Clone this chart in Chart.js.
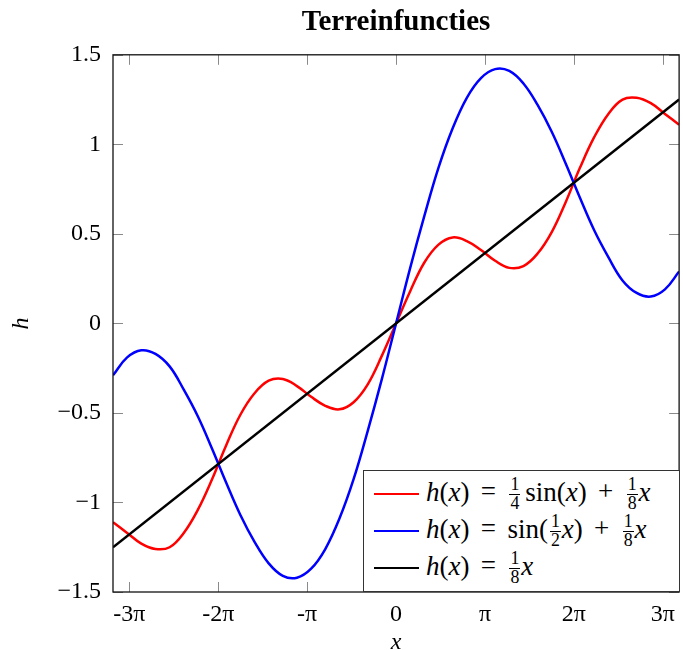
<!DOCTYPE html>
<html>
<head>
<meta charset="utf-8">
<script src="https://cdn.jsdelivr.net/npm/chart.js@4.4.1/dist/chart.umd.min.js"></script>
<style>
  html, body { margin: 0; padding: 0; background: #fff; }
  #wrap { position: relative; width: 683px; height: 650px; }
  #legend {
    position: absolute; left: 363px; top: 470px; width: 315px; height: 120px;
    border: 1px solid #333; background: #fff;
    font-family: "Liberation Serif", serif; font-size: 27px; color: #000;
  }
  .row { position: absolute; left: 0; height: 34px; display: flex; align-items: center; white-space: nowrap; }
  .swatch { display: inline-block; width: 45px; height: 0; border-top: 2.5px solid; margin: 0 7px 0 10px; }
  .frac { display: inline-block; vertical-align: middle; text-align: center; font-size: 0.66em; line-height: 1.0; margin: 0 5px 0 2px; }
  .frac span { display: block; padding: 0 1px; }
  .frac span:first-child { border-bottom: 1px solid #000; }
  .frac.tight { margin-right: 1px; }
  .op { margin: 0 0.42em; }
  i { font-style: italic; }
</style>
</head>
<body>
<div id="wrap">
  <canvas id="chart" width="683" height="650"></canvas>
  <div id="legend"></div>
</div>
<script>
const xValues = [-10, -9.5, -9, -8.5, -8, -7.5, -7, -6.5, -6, -5.5, -5, -4.5, -4, -3.5, -3, -2.5, -2, -1.5, -1, -0.5,
    0, 0.5, 1, 1.5, 2, 2.5, 3, 3.5, 4, 4.5, 5, 5.5, 6, 6.5, 7, 7.5, 8, 8.5, 9, 9.5, 10];

const redValues = [-1.11, -1.17, -1.23, -1.26, -1.25, -1.17, -1.04, -0.87, -0.68, -0.51, -0.39, -0.32, -0.31, -0.35, -0.41, -0.46, -0.48, -0.44, -0.34, -0.18,
    0, 0.18, 0.34, 0.44, 0.48, 0.46, 0.41, 0.35, 0.31, 0.32, 0.39, 0.51, 0.68, 0.87, 1.04, 1.17, 1.25, 1.26, 1.23, 1.17, 1.11];

const blueValues = [-0.29, -0.19, -0.15, -0.17, -0.24, -0.37, -0.52, -0.70, -0.89, -1.07, -1.22, -1.34, -1.41, -1.42, -1.37, -1.26, -1.09, -0.87, -0.60, -0.31,
    0, 0.31, 0.60, 0.87, 1.09, 1.26, 1.37, 1.42, 1.41, 1.34, 1.22, 1.07, 0.89, 0.70, 0.52, 0.37, 0.24, 0.17, 0.15, 0.19, 0.29];

const lineX = [-10, 10];
const lineValues = [-1.25, 1.25];

const xTickMultiples = [-3, -2, -1, 0, 1, 2, 3];
const xTickLabels = ["-3π", "-2π", "-π", "0", "π", "2π", "3π"];
const yTickLabels = ["−1.5", "−1", "−0.5", "0", "0.5", "1", "1.5"];

const FONT = "'Liberation Serif', serif";

const frac = (n, d, cls = "") => `<span class="frac ${cls}"><span>${n}</span><span>${d}</span></span>`;
const legendEntries = [
    { color: "#ff0000", html: `<i>h</i>(<i>x</i>)<span class="op">=</span>${frac(1, 4)}sin(<i>x</i>)<span class="op">+</span>${frac(1, 8, "tight")}<i>x</i>` },
    { color: "#0000ff", html: `<i>h</i>(<i>x</i>)<span class="op">=</span>sin(${frac(1, 2, "tight")}<i>x</i>)<span class="op">+</span>${frac(1, 8, "tight")}<i>x</i>` },
    { color: "#000000", html: `<i>h</i>(<i>x</i>)<span class="op">=</span>${frac(1, 8, "tight")}<i>x</i>` },
];

const legendEl = document.getElementById("legend");
legendEntries.forEach((entry, idx) => {
    const row = document.createElement("div");
    row.className = "row";
    row.style.top = (6 + idx * 37) + "px";
    row.innerHTML = `<span class="swatch" style="border-color:${entry.color}"></span><span>${entry.html}</span>`;
    legendEl.appendChild(row);
});

const toPoints = (xs, ys) => xs.map((x, i) => ({ x: x, y: ys[i] }));

// inward ticks on all four sides + the black frame, like pgfplots
const frameAndTicks = {
    id: "frameAndTicks",
    afterDatasetsDraw(chart) {
        const { ctx, chartArea, scales } = chart;
        const { left, right, top, bottom } = chartArea;
        const len = 10;
        ctx.save();
        ctx.strokeStyle = "#8a8a8a";
        ctx.lineWidth = 1;
        ctx.beginPath();
        scales.x.ticks.forEach((t) => {
            const px = Math.round(scales.x.getPixelForValue(t.value)) + 0.5;
            ctx.moveTo(px, bottom);
            ctx.lineTo(px, bottom - len);
            ctx.moveTo(px, top);
            ctx.lineTo(px, top + len);
        });
        scales.y.ticks.forEach((t) => {
            const py = Math.round(scales.y.getPixelForValue(t.value)) + 0.5;
            ctx.moveTo(left, py);
            ctx.lineTo(left + len, py);
            ctx.moveTo(right, py);
            ctx.lineTo(right - len, py);
        });
        ctx.stroke();
        ctx.strokeStyle = "#111";
        ctx.lineWidth = 1.3;
        ctx.strokeRect(left, top, right - left, bottom - top);
        ctx.restore();
    },
};

new Chart(document.getElementById("chart"), {
    type: "line",
    data: {
        datasets: [
            {
                data: toPoints(xValues, redValues),
                borderColor: "#ff0000",
                borderWidth: 2.5,
                pointRadius: 0,
                tension: 0.4,
                order: 2,
            },
            {
                data: toPoints(xValues, blueValues),
                borderColor: "#0000ff",
                borderWidth: 2.5,
                pointRadius: 0,
                tension: 0.4,
                order: 1,
            },
            {
                data: toPoints(lineX, lineValues),
                borderColor: "#000000",
                borderWidth: 2.5,
                pointRadius: 0,
                order: 0,
            },
        ],
    },
    options: {
        responsive: false,
        animation: false,
        devicePixelRatio: 1,
        layout: { padding: { left: 0, right: 3, top: 0, bottom: 0 } },
        plugins: {
            legend: { display: false },
            tooltip: { enabled: false },
            title: {
                display: true,
                fullSize: false,
                text: "Terreinfuncties",
                color: "#000",
                font: { family: FONT, size: 29, weight: "bold", lineHeight: 1.2 },
                padding: { top: 5, bottom: 15 },
            },
        },
        scales: {
            x: {
                type: "linear",
                min: -10,
                max: 10,
                grid: { display: false, drawTicks: false },
                border: { display: false },
                afterBuildTicks: (scale) => {
                    scale.ticks = xTickMultiples.map((k) => ({ value: k * Math.PI }));
                },
                afterFit: (scale) => {
                    scale.height = 58;
                },
                ticks: {
                    autoSkip: false,
                    maxRotation: 0,
                    padding: 8,
                    color: "#000",
                    font: { family: FONT, size: 24 },
                    callback: (value, idx) => xTickLabels[idx],
                },
                title: {
                    display: true,
                    text: "x",
                    color: "#000",
                    font: { family: FONT, size: 24, style: "italic", lineHeight: 0.6 },
                    padding: 0,
                },
            },
            y: {
                min: -1.5,
                max: 1.5,
                grid: { display: false, drawTicks: false },
                border: { display: false },
                afterFit: (scale) => {
                    scale.width = 113;
                },
                ticks: {
                    stepSize: 0.5,
                    padding: 12,
                    color: "#000",
                    font: { family: FONT, size: 24 },
                    callback: (value, idx) => yTickLabels[idx],
                },
                title: {
                    display: true,
                    text: "h",
                    color: "#000",
                    font: { family: FONT, size: 24, style: "italic", lineHeight: 1 },
                    padding: { top: 10, bottom: 0 },
                },
            },
        },
    },
    plugins: [frameAndTicks],
});
</script>
</body>
</html>
